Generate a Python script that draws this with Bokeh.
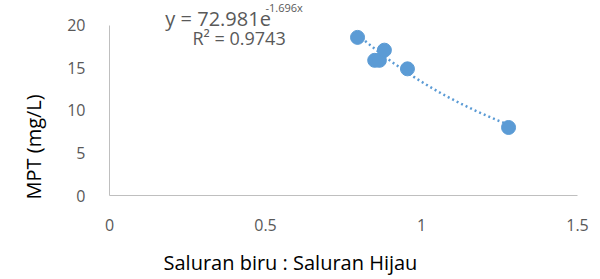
import math
from bokeh.plotting import figure
from bokeh.models import Label, Range1d, FixedTicker, Title
from bokeh.embed import file_html
from bokeh.resources import INLINE

# data
ratio = [0.795, 0.85, 0.865, 0.881, 0.955, 1.279]
mpt = [18.6, 15.9, 15.9, 17.1, 14.9, 8.0]
x_ticks = [0, 0.5, 1, 1.5]
y_ticks = [0, 5, 10, 15, 20]
fit_a = 72.981
fit_b = -1.696
r2 = 0.9743

COL = "#5b9bd5"
TXT = "#595959"
FONT = "Open Sans"

p = figure(frame_width=468, frame_height=195, min_border_left=109, min_border_right=15,
           min_border_top=0, min_border_bottom=84,
           x_range=Range1d(0, 1.5), y_range=Range1d(0, 22.94),
           output_backend="svg", toolbar_location=None)
p.outline_line_color = None
p.grid.grid_line_color = None
for ax in (p.xaxis, p.yaxis):
    ax.axis_line_color = "#bfbfbf"
    ax.axis_line_width = 1
    ax.major_tick_line_color = None
    ax.minor_tick_line_color = None
    ax.major_label_text_color = TXT
    ax.major_label_text_font = FONT
    ax.major_label_text_font_size = "16px"
p.xaxis.ticker = FixedTicker(ticks=x_ticks)
p.yaxis.ticker = FixedTicker(ticks=y_ticks)
p.yaxis.bounds = (0, 20)
p.xaxis.major_label_standoff = 17
p.yaxis.major_label_standoff = 18

# trendline from fitted equation
xmin, xmax = min(ratio), max(ratio)
n = 60
tx = [xmin + (xmax - xmin) * i / (n - 1) for i in range(n)]
ty = [fit_a * math.exp(fit_b * v) for v in tx]
p.line(tx, ty, line_color=COL, line_width=2.5, line_dash="2 3")

p.scatter(ratio, mpt, size=14, color=COL)

p.add_layout(Label(x=0.179, y=20.8, text="y = 72.981e", text_font=FONT,
                   text_font_size="20px", text_color=TXT, text_align="left",
                   text_baseline="middle"))
p.add_layout(Label(x=0.5, y=22.1, text="-1.696x", text_font=FONT, text_font_size="11px",
                   text_color=TXT, text_align="left", text_baseline="middle"))
p.add_layout(Label(x=0.266, y=18.55, text="R² = 0.9743", text_font=FONT, text_font_size="18px",
                   text_color=TXT, text_align="left", text_baseline="middle"))

p.add_layout(Title(text="Saluran biru : Saluran Hijau", text_font=FONT, text_font_size="20px",
                   text_font_style="normal", text_color="black", align="left", offset=54,
                   standoff=26), "below")
p.add_layout(Title(text="MPT (mg/L)", text_font=FONT, text_font_size="20px",
                   text_font_style="normal", text_color="black", align="left", offset=-4,
                   standoff=35), "left")

open("out.html", "w").write(file_html(p, INLINE))
